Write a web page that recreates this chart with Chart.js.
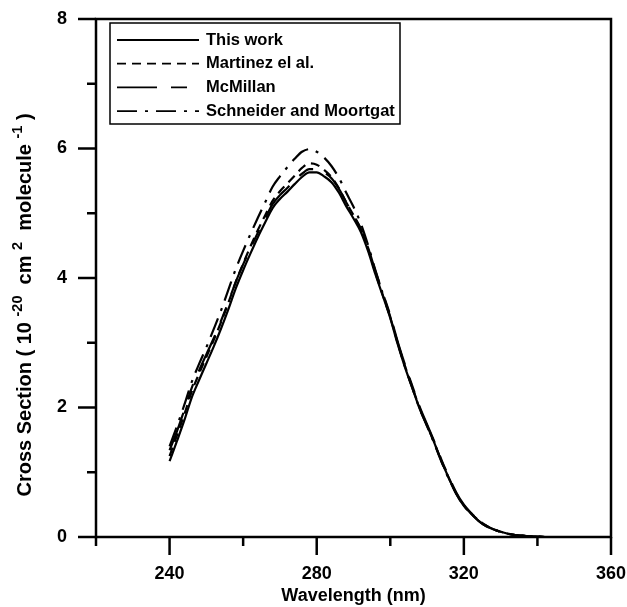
<!DOCTYPE html>
<html>
<head>
<meta charset="utf-8">
<script src="https://cdn.jsdelivr.net/npm/chart.js@4.4.0/dist/chart.umd.min.js"></script>
<style>
  html, body { margin: 0; padding: 0; background: #fff; }
  #wrap { width: 627px; height: 607px; }
</style>
</head>
<body>
<div id="wrap"><canvas id="chart" width="627" height="607"></canvas></div>
<script>
// wavelength grid (nm)
const wavelengths = [240, 242, 244, 246, 248, 250, 252, 254, 256, 258,
                     260, 262, 264, 266, 268, 270, 272, 274, 276, 278,
                     280, 282, 284, 286, 288, 290, 292, 294, 296, 298,
                     300, 302, 304, 306, 308, 310, 312, 314, 316, 318,
                     320, 322, 324, 326, 328, 330, 332, 334, 336, 338,
                     340, 342, 344];

// cross sections (1e-20 cm2 molecule-1)
const thisWork = [1.17, 1.48, 1.80, 2.15, 2.42, 2.68, 2.94, 3.22, 3.52, 3.84,
                  4.12, 4.38, 4.63, 4.86, 5.08, 5.22, 5.33, 5.45, 5.56, 5.63,
                  5.63, 5.57, 5.48, 5.32, 5.11, 4.92, 4.71, 4.41, 4.05, 3.72,
                  3.38, 2.98, 2.62, 2.30, 1.98, 1.72, 1.45, 1.16, 0.90, 0.66,
                  0.48, 0.36, 0.25, 0.17, 0.12, 0.08, 0.05, 0.03, 0.02, 0.01,
                  0.00, 0.00, 0.00];
const martinez = [1.25, 1.57, 1.89, 2.24, 2.52, 2.78, 3.04, 3.32, 3.62, 3.94,
                  4.22, 4.49, 4.74, 4.97, 5.19, 5.34, 5.46, 5.58, 5.70, 5.77,
                  5.75, 5.67, 5.56, 5.39, 5.17, 4.97, 4.75, 4.44, 4.07, 3.73,
                  3.39, 3.00, 2.64, 2.31, 1.99, 1.72, 1.45, 1.16, 0.90, 0.67,
                  0.49, 0.36, 0.26, 0.18, 0.12, 0.08, 0.05, 0.03, 0.02, 0.01,
                  0.01, 0.00, 0.00];
const mcMillan = [1.34, 1.63, 1.96, 2.30, 2.57, 2.82, 3.07, 3.34, 3.63, 3.94,
                  4.21, 4.46, 4.70, 4.92, 5.14, 5.28, 5.39, 5.51, 5.61, 5.68,
                  5.68, 5.63, 5.54, 5.38, 5.17, 4.97, 4.76, 4.46, 4.10, 3.76,
                  3.42, 3.02, 2.66, 2.33, 2.01, 1.74, 1.47, 1.18, 0.92, 0.68,
                  0.50, 0.37, 0.26, 0.18, 0.12, 0.08, 0.05, 0.03, 0.02, 0.01,
                  0.01, 0.00, 0.00];
const schneider = [1.40, 1.71, 2.04, 2.39, 2.67, 2.93, 3.21, 3.50, 3.82, 4.14,
                   4.42, 4.68, 4.93, 5.17, 5.41, 5.57, 5.71, 5.84, 5.95, 5.99,
                   5.95, 5.86, 5.73, 5.55, 5.32, 5.10, 4.84, 4.50, 4.11, 3.75,
                   3.40, 3.00, 2.63, 2.30, 1.98, 1.71, 1.44, 1.15, 0.89, 0.66,
                   0.48, 0.36, 0.25, 0.17, 0.12, 0.08, 0.05, 0.03, 0.02, 0.01,
                   0.00, 0.00, 0.00];

const seriesNames = ['This work', 'Martinez el al.', 'McMillan', 'Schneider and Moortgat'];
const xTickLabels = [240, 280, 320, 360];
const yTickLabels = [0, 2, 4, 6, 8];

const FONT = '"Liberation Sans", Arial, Helvetica, sans-serif';

const toPoints = vals => vals.map((v, i) => ({ x: wavelengths[i], y: v }));

function makeSet(label, vals, dash) {
    return {
        label: label,
        data: toPoints(vals),
        borderColor: '#000',
        borderWidth: 2.2,
        borderDash: dash,
        pointRadius: 0,
        fill: false,
        cubicInterpolationMode: 'monotone'
    };
}

// frame, major/minor ticks, legend box and the y title with superscripts
const decorations = {
    id: 'decorations',
    afterDraw(chart) {
        const { ctx, chartArea: a, scales } = chart;
        ctx.save();
        ctx.strokeStyle = '#000';
        ctx.setLineDash([]);

        // ticks
        ctx.lineWidth = 2.5;
        scales.x.ticks.forEach(t => {
            const px = scales.x.getPixelForValue(t.value);
            const len = xTickLabels.includes(t.value) ? 18 : 9;
            ctx.beginPath();
            ctx.moveTo(px, a.bottom);
            ctx.lineTo(px, a.bottom + len);
            ctx.stroke();
        });
        scales.y.ticks.forEach(t => {
            const py = scales.y.getPixelForValue(t.value);
            const len = yTickLabels.includes(t.value) ? 18 : 9;
            ctx.beginPath();
            ctx.moveTo(a.left, py);
            ctx.lineTo(a.left - len, py);
            ctx.stroke();
        });

        // frame
        ctx.strokeRect(a.left, a.top, a.right - a.left, a.bottom - a.top);

        // legend
        const box = { x: 110, y: 23, w: 290, h: 101 };
        ctx.lineWidth = 1.5;
        ctx.strokeRect(box.x, box.y, box.w, box.h);
        ctx.font = 'bold 16.5px ' + FONT;
        ctx.fillStyle = '#000';
        ctx.textBaseline = 'middle';
        ctx.textAlign = 'left';
        chart.data.datasets.forEach((ds, i) => {
            const ry = 40 + i * 23.7;
            ctx.lineWidth = 1.8;
            ctx.setLineDash(ds.borderDash || []);
            ctx.beginPath();
            ctx.moveTo(117, ry);
            ctx.lineTo(199, ry);
            ctx.stroke();
            ctx.setLineDash([]);
            ctx.fillText(ds.label, 206, ry);
        });

        // y axis title
        const parts = [
            ['Cross Section ( 10 ', false], ['-20', true], ['  cm ', false], ['2', true],
            ['  molecule ', false], ['-1', true], [' )', false]
        ];
        const normal = 'bold 20px ' + FONT;
        const sup = 'bold 14.5px ' + FONT;
        let total = 0;
        parts.forEach(p => { ctx.font = p[1] ? sup : normal; total += ctx.measureText(p[0]).width; });
        ctx.translate(25, 305);
        ctx.rotate(-Math.PI / 2);
        ctx.textBaseline = 'middle';
        let cx = -total / 2;
        parts.forEach(p => {
            ctx.font = p[1] ? sup : normal;
            ctx.fillText(p[0], cx, p[1] ? -7 : 0);
            cx += ctx.measureText(p[0]).width;
        });
        ctx.restore();
    }
};

const ctx = document.getElementById('chart').getContext('2d');
const chart = new Chart(ctx, {
    type: 'line',
    data: {
        datasets: [
            makeSet(seriesNames[0], thisWork, []),
            makeSet(seriesNames[1], martinez, [9, 6]),
            makeSet(seriesNames[2], mcMillan, [40, 14, 16, 14]),
            makeSet(seriesNames[3], schneider, [20, 8, 3, 8])
        ]
    },
    options: {
        responsive: false,
        animation: false,
        devicePixelRatio: 1,
        layout: { padding: { top: 19, right: 16, left: 0, bottom: 0 } },
        plugins: {
            legend: { display: false },
            tooltip: { enabled: false }
        },
        scales: {
            x: {
                type: 'linear',
                min: 220,
                max: 360,
                grid: { display: false },
                border: { display: false },
                ticks: {
                    stepSize: 20,
                    padding: 18,
                    color: '#000',
                    maxRotation: 0,
                    font: { family: FONT, size: 18, weight: 'bold' },
                    callback: v => xTickLabels.includes(v) ? String(v) : ''
                },
                title: {
                    display: true,
                    text: 'Wavelength (nm)',
                    color: '#000',
                    padding: { top: 0, bottom: 0 },
                    font: { family: FONT, size: 18, weight: 'bold' }
                },
                afterFit: s => {
                    s.height = 70;
                    s.paddingLeft = 0;
                    s.paddingRight = 0;
                }
            },
            y: {
                min: 0,
                max: 8,
                grid: { display: false },
                border: { display: false },
                ticks: {
                    stepSize: 1,
                    padding: 21,
                    color: '#000',
                    font: { family: FONT, size: 18, weight: 'bold' },
                    callback: v => yTickLabels.includes(v) ? String(v) : ''
                },
                afterFit: s => {
                    s.width = 96;
                    s.paddingTop = 0;
                    s.paddingBottom = 0;
                }
            }
        }
    },
    plugins: [decorations]
});
</script>
</body>
</html>
